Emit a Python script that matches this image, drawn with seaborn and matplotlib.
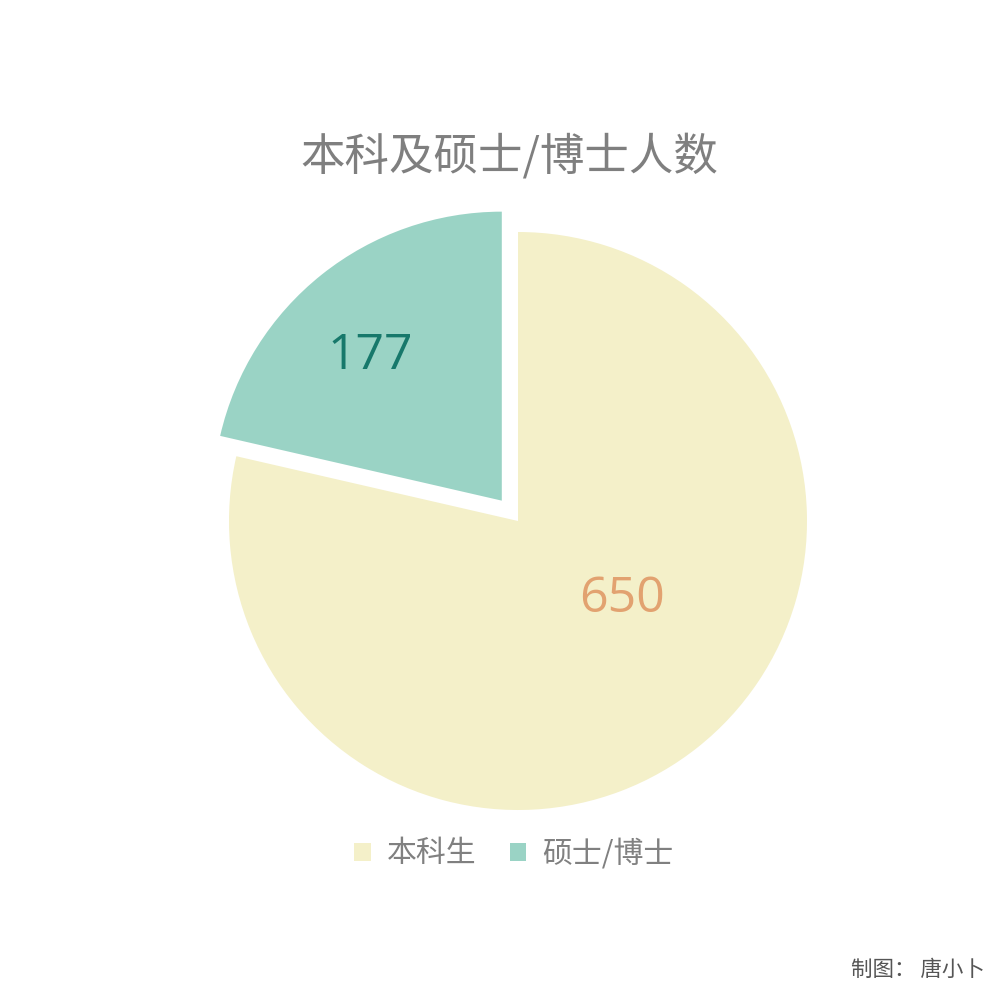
import matplotlib
matplotlib.use("Agg")
import matplotlib.pyplot as plt
import seaborn as sns
import numpy as np

# data
categories = ["本科生", "硕士/博士"]
counts = [650, 177]
slice_colors = ["#f4f0c9", "#9ad3c5"]
label_colors = ["#e2a270", "#17786b"]
title_text = "本科及硕士/博士人数"
credit_text = "制图： 唐小卜"

sns.set_theme(style="white")
plt.rcParams['font.family'] = ['Noto Sans CJK SC', 'DejaVu Sans']

fig = plt.figure(figsize=(10, 10), dpi=100)
ax = fig.add_axes([0, 0, 1, 1])

wedges, texts, autotexts = ax.pie(
    counts, colors=slice_colors, startangle=90, counterclock=False,
    explode=[0, 0.09], autopct=lambda p: "{:.0f}".format(p * sum(counts) / 100),
    pctdistance=0.6, wedgeprops=dict(linewidth=0),
)

# nudge value labels to where the original puts them
label_pos = [(0.36, -0.27), (-0.51, 0.57)]
for t, c, pos in zip(autotexts, label_colors, label_pos):
    t.set_position(pos)
    t.set_color(c)
    t.set_fontsize(36)
    t.set_family(['Open Sans', 'DejaVu Sans'])

# put centre at (518, 521) px, radius ~289 px
scale = 1000 / 289
xmin = -518 / 289
ymin = -479 / 289
ax.set_xlim(xmin, xmin + scale)
ax.set_ylim(ymin, ymin + scale)
ax.set_aspect('equal')
ax.axis('off')

fig.text(0.509, 0.843, title_text, ha='center', va='center', fontsize=32,
         color='#7f7f7f', fontweight='light')

leg = fig.legend(wedges, categories, loc='center', bbox_to_anchor=(0.514, 0.146),
                 ncol=2, frameon=False, fontsize=21.5, handlelength=0.55,
                 handleheight=0.55, handletextpad=0.55, columnspacing=1.1)
for txt in leg.get_texts():
    txt.set_color('#808080')

fig.text(0.985, 0.03, credit_text, ha='right', va='center', fontsize=15.5,
         color='#555555')

fig.savefig("out.png", dpi=100, facecolor='white')
